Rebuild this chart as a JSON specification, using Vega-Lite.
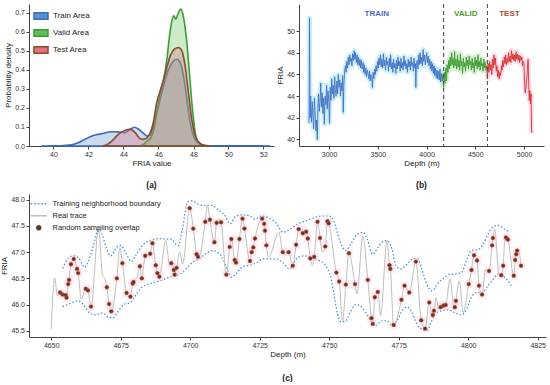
{
"$schema": "https://vega.github.io/schema/vega-lite/v6.json",
"padding": {"left": 0, "top": 3, "right": 2, "bottom": 0},
"background": "white",
"config": {
  "font": "Liberation Sans",
  "view": {"stroke": null},
  "axis": {"grid": false, "labelFontSize": 7, "titleFontSize": 8, "tickSize": 3, "domainColor": "#444", "tickColor": "#444", "labelColor": "#333", "titleColor": "#222", "titleFontWeight": "normal", "labelPadding": 1.5, "titlePadding": 2, "labelOverlap": false},
  "legend": {"labelFontSize": 8, "labelColor": "#222"},
  "title": {"fontSize": 8.5, "fontWeight": "bold", "color": "#222"}
},
"resolve": {"scale": {"color": "independent", "fill": "independent", "stroke": "independent"}, "legend": {"color": "independent", "fill": "independent", "stroke": "independent"}},
"spacing": 5,
"vconcat": [
{"hconcat": [
 {
  "width": 245, "height": 142,
  "title": {"text": "(a)", "orient": "bottom", "offset": 13},
  "data": {"values": [
   {"x":39.3,"y":0,"s":"Train Area"},{"x":40.0,"y":0.001,"s":"Train Area"},{"x":40.6,"y":0.003,"s":"Train Area"},{"x":41.0,"y":0.006,"s":"Train Area"},{"x":41.33,"y":0.014,"s":"Train Area"},{"x":41.8,"y":0.035,"s":"Train Area"},{"x":42.2,"y":0.053,"s":"Train Area"},{"x":42.76,"y":0.065,"s":"Train Area"},{"x":43.33,"y":0.075,"s":"Train Area"},{"x":43.7,"y":0.074,"s":"Train Area"},{"x":44.1,"y":0.07,"s":"Train Area"},{"x":44.38,"y":0.088,"s":"Train Area"},{"x":44.63,"y":0.098,"s":"Train Area"},{"x":44.86,"y":0.088,"s":"Train Area"},{"x":45.14,"y":0.067,"s":"Train Area"},{"x":45.33,"y":0.053,"s":"Train Area"},{"x":45.5,"y":0.056,"s":"Train Area"},{"x":45.7,"y":0.105,"s":"Train Area"},{"x":46.0,"y":0.21,"s":"Train Area"},{"x":46.29,"y":0.315,"s":"Train Area"},{"x":46.57,"y":0.4,"s":"Train Area"},{"x":46.86,"y":0.447,"s":"Train Area"},{"x":47.05,"y":0.455,"s":"Train Area"},{"x":47.24,"y":0.438,"s":"Train Area"},{"x":47.43,"y":0.368,"s":"Train Area"},{"x":47.62,"y":0.245,"s":"Train Area"},{"x":47.81,"y":0.123,"s":"Train Area"},{"x":48.0,"y":0.053,"s":"Train Area"},{"x":48.29,"y":0.014,"s":"Train Area"},{"x":48.67,"y":0.003,"s":"Train Area"},{"x":49.2,"y":0.001,"s":"Train Area"},{"x":50.5,"y":0.001,"s":"Train Area"},{"x":52.4,"y":0,"s":"Train Area"},
   {"x":45.0,"y":0,"s":"Valid Area"},{"x":45.2,"y":0.012,"s":"Valid Area"},{"x":45.39,"y":0.03,"s":"Valid Area"},{"x":45.52,"y":0.038,"s":"Valid Area"},{"x":45.71,"y":0.079,"s":"Valid Area"},{"x":45.9,"y":0.175,"s":"Valid Area"},{"x":46.1,"y":0.28,"s":"Valid Area"},{"x":46.29,"y":0.35,"s":"Valid Area"},{"x":46.48,"y":0.455,"s":"Valid Area"},{"x":46.62,"y":0.57,"s":"Valid Area"},{"x":46.76,"y":0.655,"s":"Valid Area"},{"x":46.88,"y":0.683,"s":"Valid Area"},{"x":46.98,"y":0.665,"s":"Valid Area"},{"x":47.1,"y":0.69,"s":"Valid Area"},{"x":47.28,"y":0.718,"s":"Valid Area"},{"x":47.42,"y":0.68,"s":"Valid Area"},{"x":47.62,"y":0.543,"s":"Valid Area"},{"x":47.81,"y":0.333,"s":"Valid Area"},{"x":48.0,"y":0.14,"s":"Valid Area"},{"x":48.19,"y":0.035,"s":"Valid Area"},{"x":48.48,"y":0.004,"s":"Valid Area"},{"x":48.86,"y":0,"s":"Valid Area"},
   {"x":42.8,"y":0,"s":"Test Area"},{"x":43.1,"y":0.01,"s":"Test Area"},{"x":43.33,"y":0.026,"s":"Test Area"},{"x":43.71,"y":0.061,"s":"Test Area"},{"x":44.1,"y":0.082,"s":"Test Area"},{"x":44.38,"y":0.088,"s":"Test Area"},{"x":44.67,"y":0.07,"s":"Test Area"},{"x":44.95,"y":0.038,"s":"Test Area"},{"x":45.14,"y":0.035,"s":"Test Area"},{"x":45.43,"y":0.053,"s":"Test Area"},{"x":45.71,"y":0.126,"s":"Test Area"},{"x":45.9,"y":0.228,"s":"Test Area"},{"x":46.1,"y":0.29,"s":"Test Area"},{"x":46.38,"y":0.377,"s":"Test Area"},{"x":46.67,"y":0.473,"s":"Test Area"},{"x":46.91,"y":0.508,"s":"Test Area"},{"x":47.14,"y":0.517,"s":"Test Area"},{"x":47.33,"y":0.5,"s":"Test Area"},{"x":47.52,"y":0.42,"s":"Test Area"},{"x":47.71,"y":0.28,"s":"Test Area"},{"x":47.9,"y":0.14,"s":"Test Area"},{"x":48.1,"y":0.053,"s":"Test Area"},{"x":48.38,"y":0.014,"s":"Test Area"},{"x":48.67,"y":0.002,"s":"Test Area"},{"x":49.0,"y":0,"s":"Test Area"}
  ]},
  "mark": {"type": "area", "interpolate": "monotone", "fillOpacity": 0.33, "strokeWidth": 1.6},
  "encoding": {
   "x": {"field": "x", "type": "quantitative", "scale": {"domain": [38.6, 52.6], "nice": false, "zero": false}, "axis": {"values": [40,42,44,46,48,50,52], "tickCount": 20, "format": "d", "title": "FRIA value"}},
   "y": {"field": "y", "type": "quantitative", "stack": null, "scale": {"domain": [0, 0.745], "nice": false}, "axis": {"values": [0,0.1,0.2,0.3,0.4,0.5,0.6,0.7], "tickCount": 20, "format": ".1f", "title": "Probability density"}},
   "fill": {"field": "s", "type": "nominal", "scale": {"domain": ["Train Area","Valid Area","Test Area"], "range": ["#5b8fd6","#5fbf5f","#e0707a"]}, "legend": {"title": null, "orient": "top-left", "offset": 4, "symbolType": "M-1,-0.45L1,-0.45L1,0.45L-1,0.45Z", "symbolSize": 196, "symbolStrokeWidth": 1.5, "rowPadding": 2}},
   "stroke": {"field": "s", "type": "nominal", "scale": {"domain": ["Train Area","Valid Area","Test Area"], "range": ["#3c6db4","#3f9c35","#8b4a2f"]}, "legend": {"title": null, "orient": "top-left", "offset": 4, "symbolType": "M-1,-0.45L1,-0.45L1,0.45L-1,0.45Z", "symbolSize": 196, "symbolStrokeWidth": 1.5, "rowPadding": 2}}
  }
 },
 {
  "width": 245, "height": 142,
  "title": {"text": "(b)", "orient": "bottom", "offset": 13},
  "data": {"values": [
   {"d":2795,"v":41.5,"s":"train"},{"d":2800,"v":51.2,"s":"train"},{"d":2805,"v":42.0,"s":"train"},{"d":2812,"v":44.0,"s":"train"},{"d":2820,"v":41.6,"s":"train"},{"d":2828,"v":43.5,"s":"train"},{"d":2835,"v":42.2,"s":"train"},{"d":2842,"v":41.0,"s":"train"},{"d":2850,"v":43.8,"s":"train"},{"d":2858,"v":42.5,"s":"train"},{"d":2865,"v":40.8,"s":"train"},{"d":2872,"v":41.8,"s":"train"},{"d":2880,"v":40.0,"s":"train"},{"d":2886,"v":43.0,"s":"train"},{"d":2892,"v":44.2,"s":"train"},{"d":2900,"v":42.6,"s":"train"},{"d":2908,"v":43.5,"s":"train"},{"d":2915,"v":45.2,"s":"train"},{"d":2922,"v":43.0,"s":"train"},{"d":2930,"v":44.3,"s":"train"},{"d":2938,"v":42.4,"s":"train"},{"d":2945,"v":43.8,"s":"train"},{"d":2952,"v":41.4,"s":"train"},{"d":2960,"v":44.0,"s":"train"},{"d":2968,"v":43.2,"s":"train"},{"d":2975,"v":45.0,"s":"train"},{"d":2982,"v":42.8,"s":"train"},{"d":2990,"v":44.5,"s":"train"},{"d":2998,"v":43.4,"s":"train"},{"d":3005,"v":41.5,"s":"train"},{"d":3012,"v":44.8,"s":"train"},{"d":3020,"v":43.6,"s":"train"},{"d":3028,"v":45.6,"s":"train"},{"d":3035,"v":44.2,"s":"train"},{"d":3042,"v":45.0,"s":"train"},{"d":3050,"v":43.8,"s":"train"},{"d":3058,"v":45.8,"s":"train"},{"d":3065,"v":44.6,"s":"train"},{"d":3072,"v":44.0,"s":"train"},{"d":3080,"v":45.4,"s":"train"},{"d":3088,"v":44.2,"s":"train"},{"d":3095,"v":46.0,"s":"train"},{"d":3102,"v":44.8,"s":"train"},{"d":3110,"v":45.5,"s":"train"},{"d":3118,"v":44.0,"s":"train"},{"d":3125,"v":45.2,"s":"train"},{"d":3132,"v":44.5,"s":"train"},{"d":3140,"v":45.9,"s":"train"},{"d":3146,"v":42.5,"s":"train"},{"d":3152,"v":45.0,"s":"train"},{"d":3160,"v":46.3,"s":"train"},{"d":3168,"v":46.8,"s":"train"},{"d":3175,"v":46.2,"s":"train"},{"d":3182,"v":47.2,"s":"train"},{"d":3190,"v":46.6,"s":"train"},{"d":3198,"v":47.6,"s":"train"},{"d":3205,"v":46.9,"s":"train"},{"d":3212,"v":47.8,"s":"train"},{"d":3220,"v":47.2,"s":"train"},{"d":3228,"v":47.5,"s":"train"},{"d":3235,"v":46.8,"s":"train"},{"d":3242,"v":47.9,"s":"train"},{"d":3250,"v":47.3,"s":"train"},{"d":3258,"v":48.2,"s":"train"},{"d":3265,"v":47.4,"s":"train"},{"d":3272,"v":48.0,"s":"train"},{"d":3280,"v":47.1,"s":"train"},{"d":3288,"v":47.8,"s":"train"},{"d":3295,"v":46.9,"s":"train"},{"d":3302,"v":47.6,"s":"train"},{"d":3310,"v":46.8,"s":"train"},{"d":3318,"v":47.4,"s":"train"},{"d":3325,"v":46.6,"s":"train"},{"d":3332,"v":47.3,"s":"train"},{"d":3340,"v":46.5,"s":"train"},{"d":3348,"v":47.1,"s":"train"},{"d":3355,"v":46.2,"s":"train"},{"d":3362,"v":46.9,"s":"train"},{"d":3370,"v":46.0,"s":"train"},{"d":3378,"v":46.6,"s":"train"},{"d":3385,"v":45.8,"s":"train"},{"d":3392,"v":46.4,"s":"train"},{"d":3400,"v":46.1,"s":"train"},{"d":3408,"v":45.6,"s":"train"},{"d":3415,"v":46.3,"s":"train"},{"d":3422,"v":45.4,"s":"train"},{"d":3430,"v":46.0,"s":"train"},{"d":3438,"v":45.7,"s":"train"},{"d":3445,"v":44.8,"s":"train"},{"d":3452,"v":46.2,"s":"train"},{"d":3460,"v":45.6,"s":"train"},{"d":3468,"v":46.5,"s":"train"},{"d":3475,"v":46.0,"s":"train"},{"d":3482,"v":46.8,"s":"train"},{"d":3490,"v":46.3,"s":"train"},{"d":3498,"v":47.2,"s":"train"},{"d":3505,"v":46.6,"s":"train"},{"d":3512,"v":47.5,"s":"train"},{"d":3520,"v":46.9,"s":"train"},{"d":3528,"v":47.8,"s":"train"},{"d":3535,"v":46.7,"s":"train"},{"d":3542,"v":47.4,"s":"train"},{"d":3550,"v":46.6,"s":"train"},{"d":3558,"v":47.9,"s":"train"},{"d":3565,"v":46.8,"s":"train"},{"d":3572,"v":47.3,"s":"train"},{"d":3580,"v":46.4,"s":"train"},{"d":3588,"v":47.6,"s":"train"},{"d":3595,"v":46.9,"s":"train"},{"d":3602,"v":47.2,"s":"train"},{"d":3610,"v":46.3,"s":"train"},{"d":3618,"v":47.5,"s":"train"},{"d":3625,"v":46.7,"s":"train"},{"d":3632,"v":47.8,"s":"train"},{"d":3640,"v":46.5,"s":"train"},{"d":3648,"v":47.1,"s":"train"},{"d":3655,"v":46.2,"s":"train"},{"d":3662,"v":47.4,"s":"train"},{"d":3670,"v":46.6,"s":"train"},{"d":3678,"v":47.0,"s":"train"},{"d":3685,"v":46.1,"s":"train"},{"d":3692,"v":47.3,"s":"train"},{"d":3700,"v":46.5,"s":"train"},{"d":3708,"v":47.6,"s":"train"},{"d":3715,"v":46.8,"s":"train"},{"d":3722,"v":47.2,"s":"train"},{"d":3730,"v":46.3,"s":"train"},{"d":3738,"v":47.5,"s":"train"},{"d":3745,"v":46.6,"s":"train"},{"d":3752,"v":47.1,"s":"train"},{"d":3760,"v":46.4,"s":"train"},{"d":3768,"v":47.7,"s":"train"},{"d":3775,"v":46.8,"s":"train"},{"d":3782,"v":47.3,"s":"train"},{"d":3790,"v":46.5,"s":"train"},{"d":3798,"v":47.0,"s":"train"},{"d":3805,"v":46.2,"s":"train"},{"d":3812,"v":47.4,"s":"train"},{"d":3820,"v":46.7,"s":"train"},{"d":3828,"v":47.2,"s":"train"},{"d":3835,"v":46.4,"s":"train"},{"d":3842,"v":47.6,"s":"train"},{"d":3850,"v":46.8,"s":"train"},{"d":3858,"v":47.1,"s":"train"},{"d":3865,"v":46.3,"s":"train"},{"d":3872,"v":47.5,"s":"train"},{"d":3880,"v":46.6,"s":"train"},{"d":3886,"v":47.0,"s":"train"},{"d":3890,"v":44.8,"s":"train"},{"d":3896,"v":46.8,"s":"train"},{"d":3904,"v":47.3,"s":"train"},{"d":3912,"v":46.5,"s":"train"},{"d":3920,"v":47.8,"s":"train"},{"d":3928,"v":46.9,"s":"train"},{"d":3935,"v":48.0,"s":"train"},{"d":3942,"v":47.0,"s":"train"},{"d":3950,"v":47.6,"s":"train"},{"d":3958,"v":46.8,"s":"train"},{"d":3965,"v":48.3,"s":"train"},{"d":3972,"v":47.2,"s":"train"},{"d":3980,"v":47.8,"s":"train"},{"d":3988,"v":46.9,"s":"train"},{"d":3995,"v":47.5,"s":"train"},{"d":4002,"v":48.0,"s":"train"},{"d":4010,"v":47.1,"s":"train"},{"d":4018,"v":47.7,"s":"train"},{"d":4025,"v":46.8,"s":"train"},{"d":4032,"v":47.4,"s":"train"},{"d":4040,"v":46.5,"s":"train"},{"d":4048,"v":47.2,"s":"train"},{"d":4055,"v":46.3,"s":"train"},{"d":4062,"v":47.0,"s":"train"},{"d":4070,"v":46.1,"s":"train"},{"d":4078,"v":46.8,"s":"train"},{"d":4085,"v":45.9,"s":"train"},{"d":4092,"v":46.6,"s":"train"},{"d":4100,"v":45.7,"s":"train"},{"d":4108,"v":46.4,"s":"train"},{"d":4115,"v":45.6,"s":"train"},{"d":4122,"v":46.3,"s":"train"},{"d":4130,"v":45.5,"s":"train"},{"d":4138,"v":46.5,"s":"train"},{"d":4145,"v":45.3,"s":"train"},{"d":4152,"v":46.1,"s":"train"},{"d":4160,"v":45.4,"s":"train"},{"d":4168,"v":46.0,"s":"train"},
   {"d":4168,"v":46.0,"s":"valid"},{"d":4175,"v":44.8,"s":"valid"},{"d":4182,"v":46.2,"s":"valid"},{"d":4190,"v":45.2,"s":"valid"},{"d":4198,"v":46.6,"s":"valid"},{"d":4205,"v":45.4,"s":"valid"},{"d":4212,"v":46.9,"s":"valid"},{"d":4220,"v":46.2,"s":"valid"},{"d":4228,"v":47.3,"s":"valid"},{"d":4235,"v":46.5,"s":"valid"},{"d":4242,"v":47.6,"s":"valid"},{"d":4250,"v":46.8,"s":"valid"},{"d":4258,"v":48.0,"s":"valid"},{"d":4265,"v":46.9,"s":"valid"},{"d":4272,"v":47.5,"s":"valid"},{"d":4280,"v":46.6,"s":"valid"},{"d":4288,"v":48.1,"s":"valid"},{"d":4295,"v":46.8,"s":"valid"},{"d":4302,"v":47.4,"s":"valid"},{"d":4310,"v":46.5,"s":"valid"},{"d":4318,"v":47.8,"s":"valid"},{"d":4325,"v":46.7,"s":"valid"},{"d":4332,"v":47.3,"s":"valid"},{"d":4340,"v":46.4,"s":"valid"},{"d":4348,"v":47.9,"s":"valid"},{"d":4355,"v":46.8,"s":"valid"},{"d":4362,"v":47.2,"s":"valid"},{"d":4370,"v":46.1,"s":"valid"},{"d":4378,"v":47.5,"s":"valid"},{"d":4385,"v":46.7,"s":"valid"},{"d":4392,"v":47.1,"s":"valid"},{"d":4400,"v":46.3,"s":"valid"},{"d":4408,"v":47.6,"s":"valid"},{"d":4415,"v":46.8,"s":"valid"},{"d":4422,"v":47.3,"s":"valid"},{"d":4430,"v":46.5,"s":"valid"},{"d":4438,"v":47.7,"s":"valid"},{"d":4445,"v":46.9,"s":"valid"},{"d":4452,"v":47.2,"s":"valid"},{"d":4460,"v":46.4,"s":"valid"},{"d":4468,"v":47.5,"s":"valid"},{"d":4475,"v":46.6,"s":"valid"},{"d":4482,"v":47.1,"s":"valid"},{"d":4490,"v":46.2,"s":"valid"},{"d":4498,"v":47.6,"s":"valid"},{"d":4505,"v":46.8,"s":"valid"},{"d":4512,"v":47.3,"s":"valid"},{"d":4520,"v":46.5,"s":"valid"},{"d":4528,"v":47.8,"s":"valid"},{"d":4535,"v":46.7,"s":"valid"},{"d":4542,"v":47.2,"s":"valid"},{"d":4550,"v":46.4,"s":"valid"},{"d":4558,"v":47.5,"s":"valid"},{"d":4565,"v":46.8,"s":"valid"},{"d":4572,"v":47.0,"s":"valid"},{"d":4580,"v":46.3,"s":"valid"},{"d":4588,"v":47.4,"s":"valid"},{"d":4595,"v":46.6,"s":"valid"},{"d":4602,"v":47.1,"s":"valid"},{"d":4610,"v":46.4,"s":"valid"},{"d":4618,"v":46.8,"s":"valid"},
   {"d":4618,"v":46.8,"s":"test"},{"d":4625,"v":45.6,"s":"test"},{"d":4632,"v":47.0,"s":"test"},{"d":4640,"v":46.2,"s":"test"},{"d":4648,"v":47.2,"s":"test"},{"d":4655,"v":46.4,"s":"test"},{"d":4662,"v":46.9,"s":"test"},{"d":4670,"v":46.0,"s":"test"},{"d":4678,"v":47.4,"s":"test"},{"d":4685,"v":46.6,"s":"test"},{"d":4692,"v":47.8,"s":"test"},{"d":4700,"v":46.9,"s":"test"},{"d":4708,"v":47.5,"s":"test"},{"d":4715,"v":46.3,"s":"test"},{"d":4722,"v":46.8,"s":"test"},{"d":4730,"v":45.8,"s":"test"},{"d":4738,"v":46.4,"s":"test"},{"d":4745,"v":45.6,"s":"test"},{"d":4752,"v":46.2,"s":"test"},{"d":4760,"v":45.9,"s":"test"},{"d":4768,"v":46.8,"s":"test"},{"d":4775,"v":46.4,"s":"test"},{"d":4782,"v":47.3,"s":"test"},{"d":4790,"v":46.7,"s":"test"},{"d":4798,"v":47.6,"s":"test"},{"d":4805,"v":47.0,"s":"test"},{"d":4812,"v":47.8,"s":"test"},{"d":4820,"v":46.9,"s":"test"},{"d":4828,"v":47.5,"s":"test"},{"d":4835,"v":47.1,"s":"test"},{"d":4842,"v":48.0,"s":"test"},{"d":4850,"v":47.2,"s":"test"},{"d":4858,"v":47.7,"s":"test"},{"d":4865,"v":47.1,"s":"test"},{"d":4872,"v":48.2,"s":"test"},{"d":4880,"v":47.4,"s":"test"},{"d":4888,"v":47.9,"s":"test"},{"d":4895,"v":47.3,"s":"test"},{"d":4902,"v":47.8,"s":"test"},{"d":4910,"v":47.2,"s":"test"},{"d":4918,"v":48.1,"s":"test"},{"d":4925,"v":47.4,"s":"test"},{"d":4932,"v":47.9,"s":"test"},{"d":4940,"v":47.3,"s":"test"},{"d":4948,"v":47.8,"s":"test"},{"d":4955,"v":47.1,"s":"test"},{"d":4962,"v":47.7,"s":"test"},{"d":4970,"v":47.3,"s":"test"},{"d":4978,"v":47.6,"s":"test"},{"d":4985,"v":46.8,"s":"test"},{"d":4992,"v":47.2,"s":"test"},{"d":5000,"v":47.0,"s":"test"},{"d":5005,"v":45.5,"s":"test"},{"d":5012,"v":44.3,"s":"test"},{"d":5020,"v":44.8,"s":"test"},{"d":5028,"v":45.5,"s":"test"},{"d":5035,"v":46.5,"s":"test"},{"d":5042,"v":47.4,"s":"test"},{"d":5048,"v":45.2,"s":"test"},{"d":5054,"v":43.6,"s":"test"},{"d":5060,"v":44.5,"s":"test"},{"d":5066,"v":43.3,"s":"test"},{"d":5072,"v":44.2,"s":"test"},{"d":5078,"v":40.6,"s":"test"}
  ]},
  "resolve": {"scale": {"color": "independent"}},
  "layer": [
   {"mark": {"type": "line", "strokeWidth": 5, "opacity": 0.45, "strokeJoin": "round"},
    "encoding": {
     "x": {"field": "d", "type": "quantitative", "scale": {"domain": [2692, 5205], "nice": false, "zero": false}, "axis": {"values": [3000,3500,4000,4500,5000], "tickCount": 20, "format": "d", "title": "Depth (m)"}},
     "y": {"field": "v", "type": "quantitative", "scale": {"domain": [39.4, 52.5], "nice": false, "zero": false}, "axis": {"values": [40,42,44,46,48,50], "tickCount": 20, "format": "d", "title": "FRIA"}},
     "color": {"field": "s", "type": "nominal", "scale": {"domain": ["train","valid","test"], "range": ["#8fdcf0","#a8e0a0","#f8b4d4"]}, "legend": null}
    }},
   {"mark": {"type": "line", "strokeWidth": 0.9},
    "encoding": {
     "x": {"field": "d", "type": "quantitative"},
     "y": {"field": "v", "type": "quantitative"},
     "color": {"field": "s", "type": "nominal", "scale": {"domain": ["train","valid","test"], "range": ["#3f6fc6","#3b9a2c","#d8302c"]}, "legend": null}
    }},
   {"data": {"values": [{"d": 4175}, {"d": 4625}]},
    "mark": {"type": "rule", "strokeDash": [4, 3], "color": "#555", "strokeWidth": 1.1},
    "encoding": {"x": {"field": "d", "type": "quantitative"}}},
   {"data": {"values": [{"d": 3490, "v": 51.55, "t": "TRAIN"}, {"d": 4402, "v": 51.55, "t": "VALID"}, {"d": 4850, "v": 51.55, "t": "TEST"}]},
    "mark": {"type": "text", "fontWeight": "bold", "fontSize": 8},
    "encoding": {
     "x": {"field": "d", "type": "quantitative"},
     "y": {"field": "v", "type": "quantitative"},
     "text": {"field": "t"},
     "color": {"field": "t", "type": "nominal", "scale": {"domain": ["TRAIN","VALID","TEST"], "range": ["#4a6fc0","#4a9a2a","#b5482d"]}, "legend": null}
    }}
  ]
 }
], "spacing": 2},
{
 "width": 517, "height": 143,
 "title": {"text": "(c)", "orient": "bottom", "offset": 15},
 "layer": [
  {"data": {"values": [
   {"d":4654.1,"v":46.69,"b":"u"},{"d":4656.1,"v":46.88,"b":"u"},{"d":4658.1,"v":46.93,"b":"u"},{"d":4659.7,"v":46.9,"b":"u"},{"d":4662.0,"v":46.71,"b":"u"},{"d":4663.2,"v":46.8,"b":"u"},{"d":4665.5,"v":47.19,"b":"u"},{"d":4667.0,"v":47.47,"b":"u"},{"d":4668.5,"v":47.31,"b":"u"},{"d":4670.0,"v":47.06,"b":"u"},{"d":4671.4,"v":46.93,"b":"u"},{"d":4673.5,"v":47.09,"b":"u"},{"d":4675.0,"v":47.13,"b":"u"},{"d":4676.5,"v":47.02,"b":"u"},{"d":4678.9,"v":46.82,"b":"u"},{"d":4680.3,"v":46.93,"b":"u"},{"d":4683.2,"v":47.15,"b":"u"},{"d":4685.6,"v":47.22,"b":"u"},{"d":4688.5,"v":47.26,"b":"u"},{"d":4691.5,"v":47.25,"b":"u"},{"d":4693.2,"v":47.25,"b":"u"},{"d":4695.6,"v":47.12,"b":"u"},{"d":4697.1,"v":47.41,"b":"u"},{"d":4699.1,"v":47.96,"b":"u"},{"d":4700.5,"v":47.98,"b":"u"},{"d":4702.7,"v":47.92,"b":"u"},{"d":4705.0,"v":47.89,"b":"u"},{"d":4708.0,"v":47.89,"b":"u"},{"d":4710.3,"v":47.79,"b":"u"},{"d":4712.1,"v":47.73,"b":"u"},{"d":4714.4,"v":47.54,"b":"u"},{"d":4716.5,"v":47.69,"b":"u"},{"d":4718.5,"v":47.71,"b":"u"},{"d":4721.5,"v":47.69,"b":"u"},{"d":4723.3,"v":47.63,"b":"u"},{"d":4725.6,"v":47.69,"b":"u"},{"d":4728.0,"v":47.66,"b":"u"},{"d":4731.0,"v":47.55,"b":"u"},{"d":4733.3,"v":47.38,"b":"u"},{"d":4736.3,"v":47.45,"b":"u"},{"d":4738.7,"v":47.54,"b":"u"},{"d":4741.7,"v":47.6,"b":"u"},{"d":4744.6,"v":47.66,"b":"u"},{"d":4747.6,"v":47.69,"b":"u"},{"d":4750.0,"v":47.69,"b":"u"},{"d":4751.8,"v":47.57,"b":"u"},{"d":4753.6,"v":47.25,"b":"u"},{"d":4756.0,"v":47.03,"b":"u"},{"d":4757.7,"v":47.15,"b":"u"},{"d":4760.1,"v":47.34,"b":"u"},{"d":4762.1,"v":47.38,"b":"u"},{"d":4763.7,"v":47.25,"b":"u"},{"d":4765.5,"v":46.96,"b":"u"},{"d":4767.6,"v":47.09,"b":"u"},{"d":4769.0,"v":47.19,"b":"u"},{"d":4770.8,"v":47.22,"b":"u"},{"d":4772.6,"v":47.06,"b":"u"},{"d":4774.0,"v":46.74,"b":"u"},{"d":4775.6,"v":46.68,"b":"u"},{"d":4778.0,"v":46.77,"b":"u"},{"d":4780.4,"v":46.88,"b":"u"},{"d":4781.9,"v":46.87,"b":"u"},{"d":4783.3,"v":46.68,"b":"u"},{"d":4785.1,"v":46.39,"b":"u"},{"d":4786.9,"v":46.26,"b":"u"},{"d":4789.3,"v":46.42,"b":"u"},{"d":4791.7,"v":46.52,"b":"u"},{"d":4793.5,"v":46.58,"b":"u"},{"d":4795.2,"v":46.58,"b":"u"},{"d":4797.6,"v":46.61,"b":"u"},{"d":4799.4,"v":46.84,"b":"u"},{"d":4801.2,"v":47.03,"b":"u"},{"d":4803.6,"v":47.05,"b":"u"},{"d":4805.4,"v":47.15,"b":"u"},{"d":4807.1,"v":47.34,"b":"u"},{"d":4808.9,"v":47.48,"b":"u"},{"d":4810.7,"v":47.51,"b":"u"},{"d":4813.1,"v":47.44,"b":"u"},{"d":4814.9,"v":47.38,"b":"u"},
   {"d":4654.1,"v":45.96,"b":"l"},{"d":4656.1,"v":46.0,"b":"l"},{"d":4659.7,"v":46.07,"b":"l"},{"d":4661.5,"v":46.0,"b":"l"},{"d":4663.8,"v":45.84,"b":"l"},{"d":4666.1,"v":45.8,"b":"l"},{"d":4668.5,"v":45.84,"b":"l"},{"d":4670.8,"v":45.75,"b":"l"},{"d":4672.3,"v":45.75,"b":"l"},{"d":4673.8,"v":45.85,"b":"l"},{"d":4676.1,"v":46.0,"b":"l"},{"d":4678.5,"v":46.04,"b":"l"},{"d":4680.3,"v":46.17,"b":"l"},{"d":4682.0,"v":46.3,"b":"l"},{"d":4683.8,"v":46.37,"b":"l"},{"d":4686.2,"v":46.41,"b":"l"},{"d":4689.1,"v":46.45,"b":"l"},{"d":4691.5,"v":46.5,"b":"l"},{"d":4693.8,"v":46.54,"b":"l"},{"d":4696.2,"v":46.58,"b":"l"},{"d":4698.5,"v":46.68,"b":"l"},{"d":4700.9,"v":46.81,"b":"l"},{"d":4703.2,"v":46.87,"b":"l"},{"d":4705.6,"v":46.97,"b":"l"},{"d":4708.0,"v":47.03,"b":"l"},{"d":4709.8,"v":47.0,"b":"l"},{"d":4711.5,"v":46.9,"b":"l"},{"d":4713.3,"v":46.68,"b":"l"},{"d":4714.8,"v":46.52,"b":"l"},{"d":4716.8,"v":46.61,"b":"l"},{"d":4719.1,"v":46.73,"b":"l"},{"d":4721.5,"v":46.75,"b":"l"},{"d":4723.9,"v":46.8,"b":"l"},{"d":4726.2,"v":46.87,"b":"l"},{"d":4728.6,"v":46.87,"b":"l"},{"d":4731.0,"v":46.87,"b":"l"},{"d":4733.3,"v":46.8,"b":"l"},{"d":4735.7,"v":46.68,"b":"l"},{"d":4738.7,"v":46.9,"b":"l"},{"d":4741.1,"v":46.93,"b":"l"},{"d":4743.5,"v":46.9,"b":"l"},{"d":4746.4,"v":46.84,"b":"l"},{"d":4748.8,"v":46.74,"b":"l"},{"d":4750.6,"v":46.52,"b":"l"},{"d":4751.8,"v":46.17,"b":"l"},{"d":4753.0,"v":45.82,"b":"l"},{"d":4754.2,"v":45.67,"b":"l"},{"d":4756.0,"v":45.69,"b":"l"},{"d":4757.7,"v":45.86,"b":"l"},{"d":4759.5,"v":46.0,"b":"l"},{"d":4761.3,"v":45.97,"b":"l"},{"d":4763.1,"v":45.85,"b":"l"},{"d":4764.9,"v":45.69,"b":"l"},{"d":4766.7,"v":45.6,"b":"l"},{"d":4769.0,"v":45.69,"b":"l"},{"d":4770.8,"v":45.69,"b":"l"},{"d":4772.6,"v":45.6,"b":"l"},{"d":4774.4,"v":45.69,"b":"l"},{"d":4776.2,"v":45.88,"b":"l"},{"d":4778.0,"v":45.95,"b":"l"},{"d":4779.8,"v":45.85,"b":"l"},{"d":4781.5,"v":45.63,"b":"l"},{"d":4783.3,"v":45.53,"b":"l"},{"d":4785.1,"v":45.5,"b":"l"},{"d":4786.7,"v":45.66,"b":"l"},{"d":4788.1,"v":45.82,"b":"l"},{"d":4790.5,"v":45.88,"b":"l"},{"d":4792.9,"v":45.9,"b":"l"},{"d":4795.2,"v":45.84,"b":"l"},{"d":4797.6,"v":45.8,"b":"l"},{"d":4799.4,"v":45.91,"b":"l"},{"d":4801.2,"v":46.14,"b":"l"},{"d":4803.0,"v":46.23,"b":"l"},{"d":4804.8,"v":46.22,"b":"l"},{"d":4807.1,"v":46.36,"b":"l"},{"d":4808.9,"v":46.47,"b":"l"},{"d":4810.7,"v":46.58,"b":"l"},{"d":4813.1,"v":46.52,"b":"l"},{"d":4815.5,"v":46.36,"b":"l"}
  ]},
   "mark": {"type": "line", "strokeDash": [1.5, 2], "strokeWidth": 1.2, "interpolate": "monotone"},
   "encoding": {
    "x": {"field": "d", "type": "quantitative", "scale": {"domain": [4642, 4828], "nice": false, "zero": false}, "axis": {"values": [4650,4675,4700,4725,4750,4775,4800,4825], "tickCount": 20, "format": "d", "title": "Depth (m)"}},
    "y": {"field": "v", "type": "quantitative", "scale": {"domain": [45.38, 48.11], "nice": false, "zero": false}, "axis": {"values": [45.5,46.0,46.5,47.0,47.5,48.0], "tickCount": 20, "format": ".1f", "title": "FRIA"}},
    "detail": {"field": "b"},
    "color": {"datum": "Training neighborhood boundary", "type": "nominal", "scale": {"domain": ["Training neighborhood boundary","Real trace","Random sampling overlap"], "range": ["#3d8fc4","#bdbdbd","#5a3a1c"]},
     "legend": {"title": null, "orient": "top-left", "offset": 6, "labelFontSize": 7.5, "rowPadding": 3, "labelOffset": 10,
      "encode": {"symbols": {"update": {
        "shape": {"signal": "datum.label === 'Random sampling overlap' ? 'circle' : 'stroke'"},
        "size": {"signal": "datum.label === 'Random sampling overlap' ? 25 : 256"},
        "strokeDash": {"signal": "datum.label === 'Training neighborhood boundary' ? [1.5, 2] : [1, 0]"},
        "stroke": {"signal": "datum.label === 'Real trace' ? '#bdbdbd' : datum.label === 'Random sampling overlap' ? '#e05050' : '#3d8fc4'"},
        "fill": {"signal": "datum.label === 'Random sampling overlap' ? '#5a3a1c' : 'transparent'"},
        "strokeWidth": {"signal": "datum.label === 'Random sampling overlap' ? 0.5 : 1.3"},
        "opacity": {"value": 1}
      }}}}}
   }},
  {"data": {"name": "trace", "values": [
   {"d":4650.0,"v":45.53,"s":0},{"d":4651.2,"v":46.51,"s":0},{"d":4652.2,"v":46.17,"s":0},{"d":4653.2,"v":46.23,"s":1},{"d":4654.1,"v":46.19,"s":1},{"d":4655.2,"v":46.18,"s":1},{"d":4655.5,"v":46.13,"s":1},{"d":4656.1,"v":46.39,"s":1},{"d":4656.4,"v":46.47,"s":1},{"d":4657.1,"v":46.77,"s":1},{"d":4658.1,"v":46.87,"s":1},{"d":4659.3,"v":46.68,"s":1},{"d":4659.7,"v":46.6,"s":1},{"d":4660.8,"v":46.1,"s":0},{"d":4662.4,"v":46.3,"s":1},{"d":4663.2,"v":46.27,"s":1},{"d":4664.3,"v":45.96,"s":1},{"d":4667.0,"v":47.44,"s":0},{"d":4668.5,"v":46.55,"s":0},{"d":4669.3,"v":46.5,"s":0},{"d":4670.0,"v":46.33,"s":1},{"d":4670.8,"v":46.01,"s":1},{"d":4671.6,"v":45.87,"s":1},{"d":4673.6,"v":46.5,"s":1},{"d":4674.7,"v":47.09,"s":0},{"d":4675.6,"v":46.79,"s":1},{"d":4677.1,"v":46.22,"s":1},{"d":4678.5,"v":46.15,"s":1},{"d":4679.3,"v":46.4,"s":1},{"d":4679.6,"v":46.43,"s":1},{"d":4681.0,"v":46.55,"s":0},{"d":4681.9,"v":46.73,"s":1},{"d":4682.6,"v":46.5,"s":1},{"d":4683.8,"v":46.93,"s":1},{"d":4685.6,"v":46.97,"s":1},{"d":4686.4,"v":47.17,"s":1},{"d":4687.6,"v":46.75,"s":1},{"d":4688.2,"v":46.6,"s":1},{"d":4688.9,"v":46.53,"s":1},{"d":4691.2,"v":47.22,"s":0},{"d":4692.6,"v":46.74,"s":0},{"d":4693.2,"v":46.79,"s":1},{"d":4694.1,"v":46.66,"s":1},{"d":4694.4,"v":46.57,"s":1},{"d":4695.1,"v":46.7,"s":1},{"d":4696.2,"v":47.0,"s":0},{"d":4697.3,"v":46.77,"s":0},{"d":4699.8,"v":47.84,"s":1},{"d":4701.1,"v":47.45,"s":1},{"d":4702.3,"v":46.96,"s":1},{"d":4702.8,"v":46.91,"s":1},{"d":4703.5,"v":46.95,"s":0},{"d":4705.4,"v":47.58,"s":1},{"d":4706.2,"v":47.9,"s":0},{"d":4707.1,"v":47.62,"s":1},{"d":4708.7,"v":47.19,"s":1},{"d":4709.5,"v":47.56,"s":1},{"d":4710.3,"v":47.63,"s":0},{"d":4711.1,"v":47.57,"s":1},{"d":4713.0,"v":46.57,"s":1},{"d":4714.2,"v":47.1,"s":1},{"d":4714.8,"v":47.25,"s":1},{"d":4716.0,"v":46.85,"s":1},{"d":4716.5,"v":46.8,"s":1},{"d":4717.7,"v":47.25,"s":1},{"d":4718.8,"v":47.64,"s":1},{"d":4719.5,"v":47.45,"s":1},{"d":4721.5,"v":46.83,"s":1},{"d":4722.1,"v":47.0,"s":1},{"d":4722.7,"v":47.09,"s":1},{"d":4723.3,"v":47.26,"s":1},{"d":4725.9,"v":47.64,"s":1},{"d":4726.6,"v":47.54,"s":1},{"d":4726.9,"v":47.41,"s":1},{"d":4727.4,"v":47.13,"s":1},{"d":4728.2,"v":46.9,"s":0},{"d":4731.9,"v":47.38,"s":0},{"d":4733.3,"v":47.0,"s":1},{"d":4734.3,"v":46.95,"s":0},{"d":4735.4,"v":47.0,"s":1},{"d":4736.9,"v":46.74,"s":1},{"d":4738.1,"v":47.14,"s":1},{"d":4739.0,"v":47.44,"s":1},{"d":4740.5,"v":47.36,"s":1},{"d":4741.7,"v":47.39,"s":1},{"d":4742.3,"v":47.26,"s":1},{"d":4743.2,"v":46.88,"s":1},{"d":4743.9,"v":46.75,"s":0},{"d":4744.6,"v":46.91,"s":1},{"d":4745.8,"v":47.58,"s":1},{"d":4746.7,"v":47.27,"s":1},{"d":4747.5,"v":47.0,"s":0},{"d":4748.6,"v":47.11,"s":1},{"d":4749.4,"v":47.59,"s":1},{"d":4749.8,"v":47.55,"s":1},{"d":4752.6,"v":46.61,"s":1},{"d":4753.6,"v":46.44,"s":1},{"d":4754.8,"v":45.69,"s":0},{"d":4756.0,"v":46.38,"s":1},{"d":4757.1,"v":46.98,"s":1},{"d":4759.3,"v":46.39,"s":1},{"d":4760.0,"v":46.2,"s":0},{"d":4762.1,"v":47.31,"s":0},{"d":4763.9,"v":46.47,"s":1},{"d":4765.2,"v":45.74,"s":1},{"d":4765.7,"v":45.63,"s":1},{"d":4766.4,"v":46.14,"s":1},{"d":4767.5,"v":46.24,"s":1},{"d":4768.5,"v":45.79,"s":0},{"d":4770.8,"v":47.22,"s":0},{"d":4771.7,"v":46.75,"s":1},{"d":4772.0,"v":46.68,"s":1},{"d":4773.2,"v":45.61,"s":1},{"d":4776.0,"v":46.09,"s":1},{"d":4777.1,"v":46.36,"s":1},{"d":4778.8,"v":46.23,"s":1},{"d":4781.2,"v":46.82,"s":1},{"d":4783.1,"v":45.7,"s":1},{"d":4784.5,"v":45.54,"s":1},{"d":4786.0,"v":46.04,"s":1},{"d":4787.0,"v":45.76,"s":0},{"d":4787.3,"v":45.8,"s":1},{"d":4787.7,"v":45.88,"s":1},{"d":4788.5,"v":46.13,"s":0},{"d":4789.3,"v":45.91,"s":0},{"d":4790.1,"v":45.95,"s":1},{"d":4791.1,"v":45.98,"s":1},{"d":4791.9,"v":45.99,"s":1},{"d":4793.5,"v":46.49,"s":0},{"d":4795.0,"v":45.9,"s":0},{"d":4795.2,"v":45.95,"s":1},{"d":4795.6,"v":46.07,"s":1},{"d":4796.8,"v":46.45,"s":0},{"d":4798.2,"v":45.85,"s":0},{"d":4800.2,"v":46.39,"s":1},{"d":4801.2,"v":46.66,"s":1},{"d":4802.1,"v":46.94,"s":1},{"d":4803.2,"v":46.84,"s":1},{"d":4803.9,"v":46.36,"s":1},{"d":4805.0,"v":46.19,"s":1},{"d":4806.2,"v":46.66,"s":0},{"d":4807.5,"v":46.64,"s":1},{"d":4808.6,"v":47.13,"s":1},{"d":4808.9,"v":47.27,"s":1},{"d":4809.5,"v":47.44,"s":0},{"d":4811.1,"v":46.58,"s":0},{"d":4811.9,"v":46.56,"s":1},{"d":4812.6,"v":46.74,"s":1},{"d":4813.3,"v":47.31,"s":0},{"d":4813.6,"v":47.28,"s":1},{"d":4814.3,"v":47.24,"s":1},{"d":4816.4,"v":46.55,"s":1},{"d":4816.9,"v":46.85,"s":1},{"d":4817.3,"v":46.96,"s":1},{"d":4817.6,"v":47.03,"s":1},{"d":4818.0,"v":47.05,"s":0},{"d":4819.0,"v":46.74,"s":1}
  ]},
   "mark": {"type": "line", "strokeWidth": 1, "interpolate": "monotone"},
   "encoding": {
    "x": {"field": "d", "type": "quantitative"},
    "y": {"field": "v", "type": "quantitative"},
    "color": {"datum": "Real trace", "type": "nominal"}
   }},
  {"data": {"name": "trace"},
   "transform": [{"filter": "datum.s == 1"}],
   "mark": {"type": "point", "shape": "square", "size": 70, "filled": true, "color": "#fbc8d6", "opacity": 0.3},
   "encoding": {
    "x": {"field": "d", "type": "quantitative"},
    "y": {"field": "v", "type": "quantitative"}
   }},
  {"data": {"name": "trace"},
   "transform": [{"filter": "datum.s == 1"}],
   "mark": {"type": "circle", "size": 15, "stroke": "#e05050", "strokeWidth": 0.5, "opacity": 1},
   "encoding": {
    "x": {"field": "d", "type": "quantitative"},
    "y": {"field": "v", "type": "quantitative"},
    "color": {"datum": "Random sampling overlap", "type": "nominal"}
   }}
 ]
}
]
}
